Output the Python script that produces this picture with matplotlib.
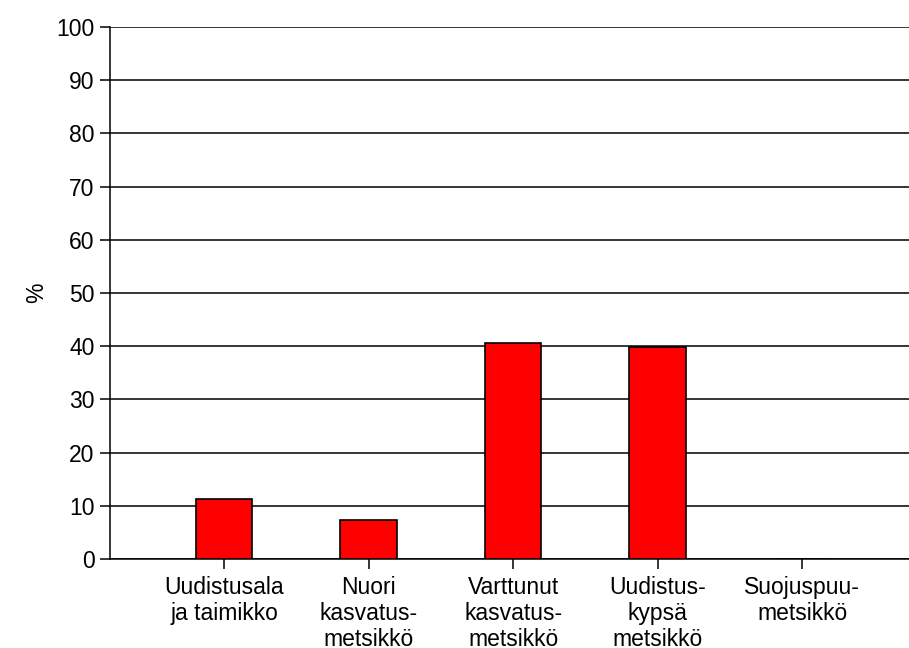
import matplotlib
matplotlib.use("Agg")
import matplotlib.pyplot as plt

# Metsikön kehitysluokat
categories = [
    "Uudistusala\nja taimikko",
    "Nuori\nkasvatus-\nmetsikkö",
    "Varttunut\nkasvatus-\nmetsikkö",
    "Uudistus-\nkypsä\nmetsikkö",
    "Suojuspuu-\nmetsikkö",
]
shares = [11.2, 7.4, 40.6, 39.9, 0.0]
yticks = list(range(0, 101, 10))

plt.rcParams['font.family'] = ['Liberation Sans', 'DejaVu Sans']
plt.rcParams['font.size'] = 16.5

fig = plt.figure(figsize=(9.09, 6.48), dpi=100)
ax = fig.add_axes([0.121, 0.1373, 0.879, 0.821])

x = list(range(len(categories)))
ax.bar(x, shares, width=0.39, color="#ff0000", edgecolor="black",
       linewidth=1.2, zorder=3)

ax.set_ylim(0, 100)
ax.set_xlim(-0.79, 4.74)
ax.set_yticks(yticks)
ax.set_xticks(x)
ax.set_xticklabels(categories, linespacing=1.17)
ax.yaxis.grid(True, color="black", linewidth=1.1)
ax.set_axisbelow(True)

for side in ["top", "right"]:
    ax.spines[side].set_visible(False)
for side in ["left", "bottom"]:
    ax.spines[side].set_linewidth(1.1)

ax.tick_params(axis="y", length=7, width=1.1, pad=4)
ax.tick_params(axis="x", length=7, width=1.1, pad=5)
ax.set_ylabel("%")
ax.yaxis.set_label_coords(-0.078, 0.5)

fig.savefig("out.png", dpi=100)
